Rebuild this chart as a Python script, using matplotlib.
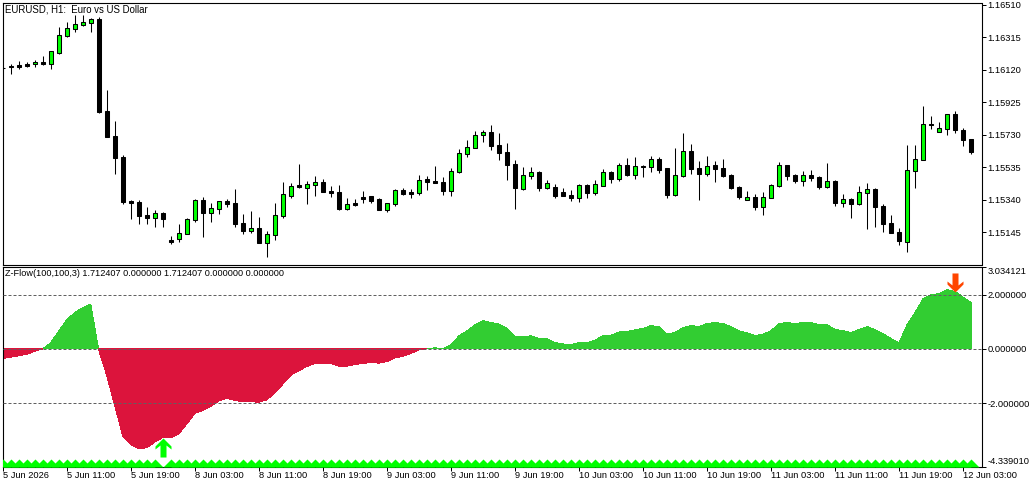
import matplotlib
matplotlib.use("Agg")
import matplotlib.pyplot as plt
import numpy as np

plt.rcParams["font.family"] = ["Liberation Sans", "DejaVu Sans"]

# prices in points (1e-5)
highs = [116135,116151,116171,116165,116175,116201,116231,116375,116405,116447,116447,116427,116433,115997,115811,115607,
         115335,115335,115295,115277,115267,115121,115193,115227,115343,115355,115319,115331,115343,115403,115253,115271,
         115235,115151,115319,115445,115439,115553,115451,115481,115463,115421,115427,115349,115343,115391,115361,115349,
         115319,115403,115409,115403,115487,115481,115541,115475,115529,115643,115697,115751,115757,115787,115739,115679,
         115577,115535,115535,115511,115457,115433,115409,115397,115433,115433,115457,115523,115511,115559,115589,115595,
         115547,115601,115595,115529,115649,115739,115673,115571,115601,115571,115583,115493,115421,115391,115373,115385,
         115433,115565,115547,115493,115511,115517,115481,115559,115457,115373,115349,115421,115439,115409,115313,115247,
         115169,115667,115667,115901,115841,115805,115853,115871,115769,115703]
opens = [116132,116139,116147,116153,116151,116165,116155,116221,116319,116365,116389,116401,116423,115871,115721,115595,
         115333,115325,115247,115229,115259,115097,115105,115135,115217,115337,115259,115283,115331,115319,115199,115151,
         115169,115079,115127,115241,115361,115427,115409,115427,115445,115391,115385,115283,115319,115355,115361,115343,
         115277,115313,115397,115385,115379,115463,115451,115445,115391,115505,115613,115649,115727,115745,115667,115625,
         115553,115403,115481,115505,115409,115415,115385,115367,115349,115427,115379,115421,115505,115463,115547,115487,
         115541,115535,115583,115529,115367,115481,115631,115529,115493,115547,115529,115487,115415,115337,115355,115295,
         115349,115421,115547,115487,115451,115487,115475,115415,115451,115319,115343,115313,115379,115403,115301,115199,
         115145,115085,115511,115577,115793,115745,115763,115853,115757,115703]
closes = [116129,116133,116137,116143,116163,116155,116231,116327,116367,116393,116403,116423,115865,115715,115591,115325,
          115321,115241,115229,115259,115223,115087,115139,115223,115337,115259,115289,115331,115313,115193,115151,115169,
          115079,115133,115247,115373,115421,115415,115433,115445,115385,115379,115283,115313,115307,115343,115331,115277,
          115319,115397,115373,115373,115457,115445,115439,115391,115511,115619,115655,115727,115745,115661,115619,115547,
          115409,115487,115505,115409,115439,115361,115361,115349,115427,115379,115433,115505,115463,115547,115487,115541,
          115535,115583,115517,115367,115487,115631,115523,115493,115541,115523,115481,115409,115355,115355,115295,115355,
          115427,115547,115481,115451,115487,115469,115415,115451,115319,115343,115313,115385,115403,115295,115193,115139,
          115091,115517,115583,115793,115787,115769,115853,115757,115697,115625]
lows = [116123,116095,116125,116137,116137,116149,116123,116213,116317,116347,116383,116347,115859,115715,115495,115313,
        115223,115193,115193,115175,115175,115073,115085,115135,115205,115115,115205,115253,115295,115175,115133,115139,
        115079,114995,115097,115229,115349,115409,115313,115361,115385,115355,115277,115277,115301,115319,115319,115277,
        115265,115301,115367,115349,115367,115397,115439,115367,115361,115499,115595,115649,115685,115637,115577,115457,
        115283,115397,115463,115391,115403,115349,115361,115331,115325,115349,115367,115421,115439,115451,115481,115463,
        115475,115505,115499,115349,115361,115475,115493,115337,115481,115445,115475,115403,115343,115337,115277,115247,
        115349,115415,115457,115439,115421,115451,115403,115409,115301,115295,115229,115307,115163,115175,115145,115139,
        115067,115025,115409,115577,115763,115745,115727,115739,115661,115613]

zflow = [-0.355,-0.31,-0.26,-0.20,-0.09,0.0,0.23,0.66,1.07,1.34,1.52,1.65,-0.05,-0.99,-2.10,-3.22,
         -3.54,-3.69,-3.64,-3.44,-3.27,-3.28,-3.14,-2.77,-2.38,-2.27,-2.12,-1.92,-1.83,-1.90,-1.96,-1.95,
         -1.97,-1.88,-1.63,-1.30,-0.97,-0.81,-0.65,-0.54,-0.53,-0.54,-0.64,-0.64,-0.58,-0.54,-0.50,-0.53,
         -0.47,-0.34,-0.27,-0.17,-0.04,0.0,0.04,0.0,0.15,0.48,0.66,0.89,1.04,0.97,0.91,0.76,
         0.45,0.45,0.48,0.38,0.38,0.23,0.18,0.16,0.23,0.23,0.31,0.49,0.50,0.62,0.64,0.70,
         0.75,0.86,0.81,0.55,0.60,0.78,0.86,0.82,0.93,0.97,0.93,0.82,0.66,0.59,0.49,0.54,
         0.67,0.93,0.97,0.93,0.97,0.97,0.89,0.89,0.71,0.67,0.60,0.71,0.82,0.71,0.56,0.38,
         0.23,0.89,1.34,1.85,2.00,2.03,2.18,2.11,1.91,1.712407]

levels = [2.0, 0.0, -2.0]
buy_bar = 20
sell_bar = 119
price_ticks = [1.16510, 1.16315, 1.16120, 1.15925, 1.15730, 1.15535, 1.15340, 1.15145]
flow_ticks = [3.034121, 2.0, 0.0, -2.0, -4.33901]
flow_labels = ["3.034121", "2.000000", "0.000000", "-2.000000", "-4.339010"]
date_labels = ["5 Jun 2026", "5 Jun 11:00", "5 Jun 19:00", "8 Jun 03:00", "8 Jun 11:00", "8 Jun 19:00",
               "9 Jun 03:00", "9 Jun 11:00", "9 Jun 19:00", "10 Jun 03:00", "10 Jun 11:00", "10 Jun 19:00",
               "11 Jun 03:00", "11 Jun 11:00", "11 Jun 19:00", "12 Jun 03:00"]

W, H = 1030, 482
FS = 6.7


def panel(top, bottom):
    left, right = 2.5, 981.5
    return [left / W, 1 - bottom / H, (right - left) / W, (bottom - top) / H]


fig = plt.figure(figsize=(W / 100, H / 100), dpi=100)
ax = fig.add_axes(panel(2.5, 264.5))
ax2 = fig.add_axes(panel(266.5, 466.5))

bars = np.arange(len(closes))
o, h, l, c = [np.array(a) / 1e5 for a in (opens, highs, lows, closes)]

ax.vlines(bars, l, h, color="black", lw=0.75, zorder=2)
up = c >= o
ax.bar(bars, np.abs(c - o), bottom=np.minimum(o, c), width=0.56,
       color=np.where(up, "#00FF00", "black"), edgecolor="black", linewidth=0.75, zorder=3)
ax.set_ylim(1.14950, 1.16523)
ax.set_yticks(price_ticks)
ax.set_yticklabels([f"{p:.5f}" for p in price_ticks])
ax.set_xticks([])
ax.text(0.003, 0.992, "EURUSD, H1:  Euro vs US Dollar", transform=ax.transAxes, va="top", fontsize=6.9)

zf = np.array(zflow)
ax2.fill_between(bars, 0, zf, where=zf >= 0, interpolate=True, color="#32CD32", lw=0, antialiased=False, zorder=2)
ax2.fill_between(bars, 0, zf, where=zf <= 0, interpolate=True, color="#DC143C", lw=0, antialiased=False, zorder=2)
for lev in levels:
    ax2.axhline(lev, color="#606060", lw=0.72, dashes=(3, 2), zorder=3)

# floor row of small triangles, one per bar, absent on the signal bar
floor_bars = bars[bars != buy_bar]
tri = [(-8, 0), (0, 8), (8, 0)]
ax2.scatter(floor_bars, np.full(len(floor_bars), flow_ticks[-1]), marker=tri, s=133, color="#00FF00", lw=0, zorder=4)

arrow = [(0, 0), (-8, -8), (-8, -11), (-3, -7), (-3, -19), (3, -19), (3, -7), (8, -11), (8, -8)]
ax2.scatter([buy_bar], [zf[buy_bar]], marker=arrow, s=750, color="#00FF00", lw=0, zorder=5)
ax2.scatter([sell_bar], [zf[sell_bar]], marker=[(x, -y) for x, y in arrow], s=750, color="#FF4500", lw=0, zorder=5)

ax2.set_ylim(flow_ticks[-1], flow_ticks[0])
ax2.set_yticks(flow_ticks)
ax2.set_yticklabels(flow_labels)
ax2.set_xticks(bars[::8])
ax2.set_xticklabels(date_labels, ha="left")
ax2.text(0.003, 0.985, "Z-Flow(100,100,3) 1.712407 0.000000 1.712407 0.000000 0.000000",
         transform=ax2.transAxes, va="top", fontsize=6.6)

for a in (ax, ax2):
    # bar spacing is 8 px, first bar sits just on the left border
    a.set_xlim(-0.03, 122.3)
    a.yaxis.tick_right()
    a.tick_params(axis="y", length=3, width=0.72, pad=1.5, labelsize=FS)
    a.tick_params(axis="x", length=3, width=0.72, pad=0.5, labelsize=FS)
    for s in a.spines.values():
        s.set_linewidth(0.8)

# the two outer labels sit inside the panel height
labels = ax2.get_yticklabels()
labels[0].set_va("top")
labels[-1].set_va("bottom")

fig.savefig("out.png", dpi=100)
